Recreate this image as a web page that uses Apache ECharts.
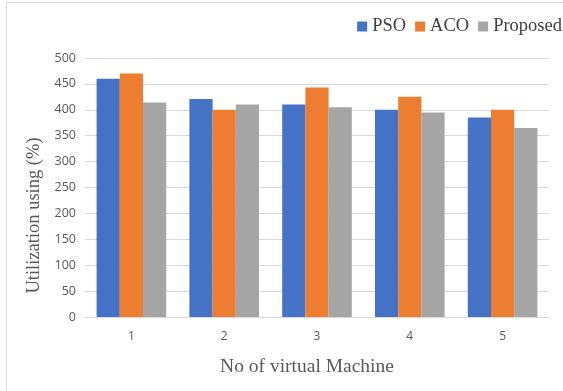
<!DOCTYPE html>
<html>
<head>
<meta charset="utf-8">
<style>
  html, body { margin: 0; padding: 0; background: #fff; }
  #chart { width: 563px; height: 391px; }
</style>
<script src="https://cdn.jsdelivr.net/npm/echarts@6/dist/echarts.min.js"></script>
</head>
<body>
<div id="chart"></div>
<script>
// Virtual machine count on the x axis
const categories = ['1', '2', '3', '4', '5'];
// Utilization per algorithm
const psoValues = [460, 421, 410, 400, 385];
const acoValues = [470, 400, 443, 425, 400];
const proposedValues = [414, 410, 405, 395, 365];
const seriesNames = ['PSO', 'ACO', 'Proposed'];
const seriesColors = ['#4472c4', '#ed7d31', '#a5a5a5'];

const chart = echarts.init(document.getElementById('chart'));
const serif = '"Liberation Serif", "Times New Roman", serif';
const sans = '"Open Sans", "Noto Sans", sans-serif';

const values = [psoValues, acoValues, proposedValues];

chart.setOption({
  animation: false,
  backgroundColor: '#fff',
  grid: { left: 85, right: 14, top: 58, bottom: 74 },
  legend: {
    right: 1, top: 17, padding: 0,
    itemWidth: 10, itemHeight: 10, itemGap: 9,
    icon: 'rect',
    textStyle: { fontFamily: serif, fontSize: 18.5, color: '#404040' },
    data: seriesNames
  },
  xAxis: {
    type: 'category',
    data: categories,
    name: 'No of virtual Machine',
    nameLocation: 'middle',
    nameGap: 40,
    nameTextStyle: { fontFamily: serif, fontSize: 19.5, color: '#595959', padding: [0, 20, 0, 0] },
    axisLine: { lineStyle: { color: '#d9d9d9', width: 1 } },
    axisTick: { show: false },
    axisLabel: { fontFamily: sans, fontSize: 12, color: '#595959', margin: 14 }
  },
  yAxis: {
    type: 'value',
    min: 0, max: 500, interval: 50,
    name: 'Utilization using (%)',
    nameLocation: 'middle',
    nameGap: 40,
    nameTextStyle: { fontFamily: serif, fontSize: 18.5, color: '#595959', padding: [0, 56, 0, 0] },
    axisLine: { show: false },
    axisTick: { show: false },
    axisLabel: { fontFamily: sans, fontSize: 12.5, color: '#595959', margin: 9 },
    splitLine: { lineStyle: { color: '#d9d9d9', width: 1 } }
  },
  graphic: [
    { type: 'line', shape: { x1: 6.5, y1: 2, x2: 6.5, y2: 391 }, style: { stroke: '#d9d9d9', lineWidth: 1 } },
    { type: 'line', shape: { x1: 6, y1: 2.5, x2: 563, y2: 2.5 }, style: { stroke: '#d9d9d9', lineWidth: 1 } }
  ],
  series: seriesNames.map((name, i) => ({
    name,
    type: 'bar',
    data: values[i],
    barGap: '0%',
    barCategoryGap: '25%',
    itemStyle: { color: seriesColors[i] }
  }))
});
</script>
</body>
</html>
